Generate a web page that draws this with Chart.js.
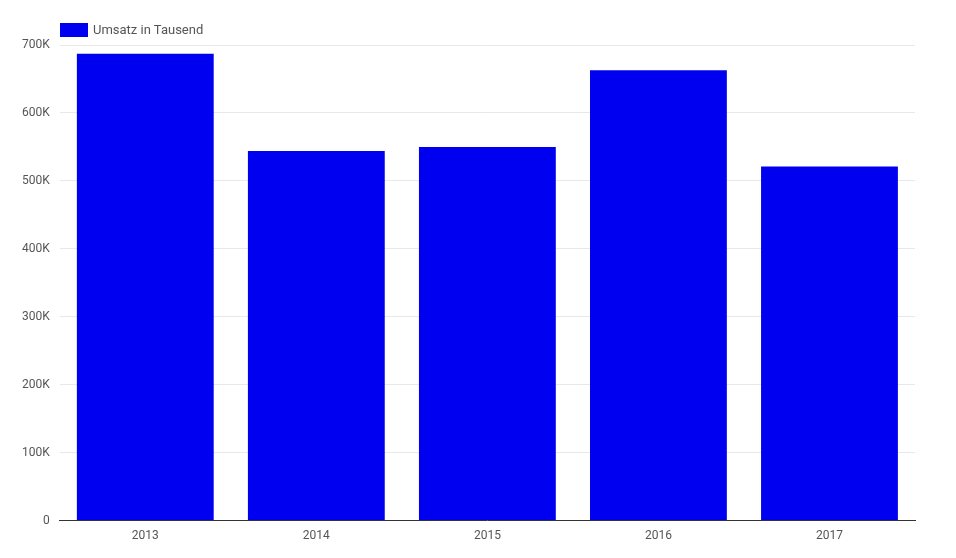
<!DOCTYPE html>
<html><head><meta charset="utf-8">
<script src="https://cdn.jsdelivr.net/npm/chart.js@4"></script>
<style>html,body{margin:0;background:#fff}#w{width:956px;height:558px;position:relative}
#lg{position:absolute;left:60px;top:22px;font:13px Roboto;color:#555;display:flex;align-items:center}
#lg span.b{display:inline-block;width:28px;height:14px;background:#0000f0;margin-right:5px}</style>
</head><body><div id="w"><canvas id="c"></canvas><div id="lg"><span class="b"></span><span id="lt"></span></div></div>
<script>
const categories = ["2013","2014","2015","2016","2017"];
const umsatz = [687000, 544000, 550000, 663000, 521000];
const seriesLabel = "Umsatz in Tausend";
document.getElementById('lt').textContent = seriesLabel;
new Chart(document.getElementById('c'), {
  type: 'bar',
  data: { labels: categories, datasets: [{ label: seriesLabel, data: umsatz, backgroundColor: '#0000f0', categoryPercentage: 0.8, barPercentage: 1 }] },
  options: {
    responsive: true, maintainAspectRatio: false, animation: false,
    layout: { padding: { left: 12, right: 41, top: 45, bottom: 7 } },
    plugins: { tooltip: { enabled: false }, legend: { display: false } },
    scales: {
      x: { grid: { display: false, drawTicks: false }, border: { color: '#333' },
           ticks: { color: '#555', font: { family: 'Roboto', size: 12 }, padding: 8 } },
      y: { min: 0, max: 700000, grid: { color: '#e8e8e8', drawTicks: false }, border: { display: false },
           ticks: { stepSize: 100000, color: '#555', font: { family: 'Roboto', size: 12 }, padding: 10,
                    callback: v => v === 0 ? '0' : (v/1000) + 'K' } }
    }
  }
});
</script></body></html>
